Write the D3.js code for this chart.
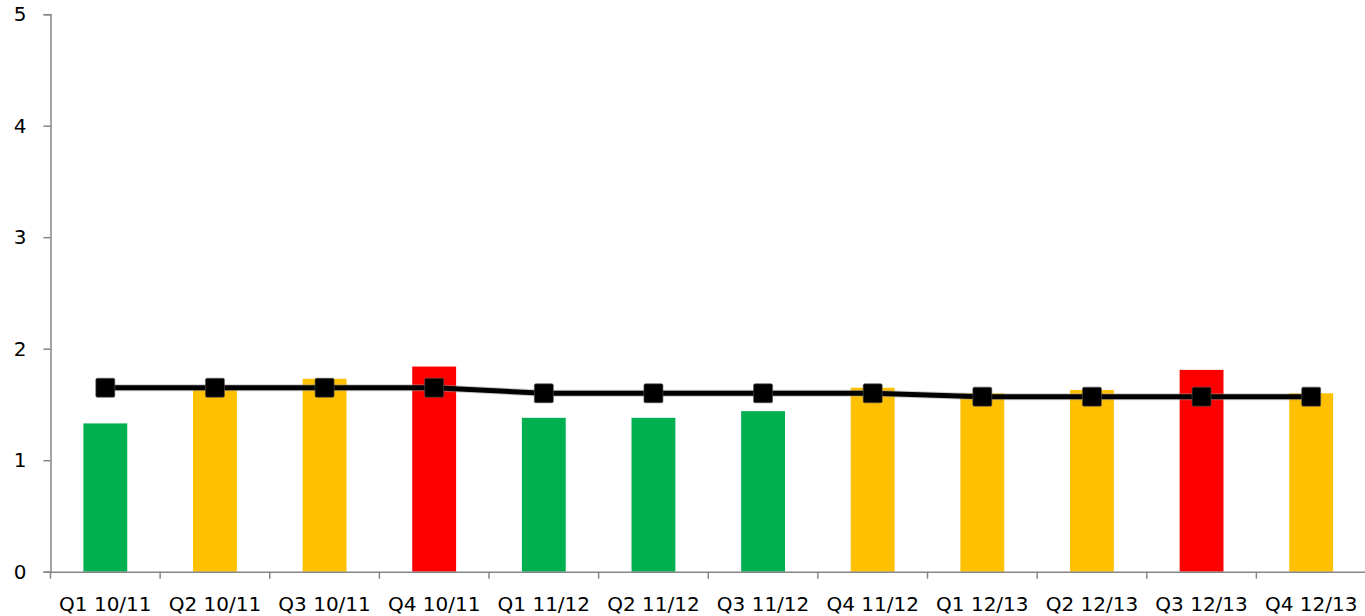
<!DOCTYPE html>
<html>
<head>
<meta charset="utf-8">
<script src="https://cdn.jsdelivr.net/npm/d3@7"></script>
<style>
  html, body { margin: 0; padding: 0; background: #fff; }
  svg { display: block; }
  text { font-family: "DejaVu Sans", Verdana, sans-serif; fill: #000; }
</style>
</head>
<body>
<svg id="chart" width="1365" height="616"></svg>
<script>
const categories = ["Q1 10/11","Q2 10/11","Q3 10/11","Q4 10/11","Q1 11/12","Q2 11/12","Q3 11/12","Q4 11/12","Q1 12/13","Q2 12/13","Q3 12/13","Q4 12/13"];
const barValues = [1.33, 1.63, 1.73, 1.84, 1.38, 1.38, 1.44, 1.65, 1.60, 1.63, 1.81, 1.60];
const barStatus = ["green","amber","amber","red","green","green","green","amber","amber","amber","red","amber"];
const lineValues = [1.65, 1.65, 1.65, 1.65, 1.60, 1.60, 1.60, 1.60, 1.57, 1.57, 1.57, 1.57];
const yTicks = [0, 1, 2, 3, 4, 5];

const statusColor = { green: "#00B050", amber: "#FFC000", red: "#FF0000" };

const svg = d3.select("#chart");
const x = d3.scaleBand().domain(categories).range([50.5, 1366]).paddingInner(0).paddingOuter(0);
const y = d3.scaleLinear().domain([0, 5]).range([571.7, 14.2]);

const axisColor = "#868686";

// bars
const barW = x.bandwidth() * 0.4;
svg.append("g").selectAll("rect").data(categories).join("rect")
  .attr("x", d => x(d) + x.bandwidth() / 2 - barW / 2)
  .attr("width", barW)
  .attr("y", (d, i) => y(barValues[i]))
  .attr("height", (d, i) => y(0) - y(barValues[i]))
  .attr("fill", (d, i) => statusColor[barStatus[i]]);

// y axis
const yAxis = svg.append("g").attr("transform", "translate(50.5,0)")
  .call(d3.axisLeft(y).tickValues(yTicks).tickSize(7).tickPadding(17).tickFormat(d3.format("d")));
yAxis.select(".domain").attr("stroke", axisColor).attr("stroke-width", 1.5);
yAxis.selectAll(".tick line").attr("stroke", axisColor).attr("stroke-width", 1.5);
yAxis.selectAll(".tick text").attr("font-size", 20).attr("font-family", "DejaVu Sans, Verdana, sans-serif").attr("fill", "#000");

// x axis
const xAxis = svg.append("g").attr("transform", "translate(0," + y(0) + ")")
  .call(d3.axisBottom(x).tickSize(0).tickPadding(0));
xAxis.select(".domain").attr("stroke", axisColor).attr("stroke-width", 1.5);
xAxis.selectAll(".tick text")
  .attr("font-size", 20)
  .attr("font-family", "DejaVu Sans, Verdana, sans-serif")
  .attr("fill", "#000")
  .attr("y", 0).attr("dy", 0)
  .attr("transform", "translate(0,39.5)");
// boundary tick marks
svg.append("g").selectAll("line").data(categories.slice(1)).join("line")
  .attr("x1", d => x(d)).attr("x2", d => x(d))
  .attr("y1", y(0)).attr("y2", y(0) + 7)
  .attr("stroke", axisColor).attr("stroke-width", 1.5);
svg.append("line")
  .attr("x1", x.range()[0]).attr("x2", x.range()[0])
  .attr("y1", y(0)).attr("y2", y(0) + 7)
  .attr("stroke", axisColor).attr("stroke-width", 1.5);

// line series
const cx = d => x(d) + x.bandwidth() / 2;
const lineGen = d3.line().x((d, i) => cx(categories[i])).y(d => y(d));
svg.append("path").datum(lineValues)
  .attr("d", lineGen)
  .attr("fill", "none")
  .attr("stroke", "#9a9a9a")
  .attr("stroke-width", 7)
  .attr("opacity", 0.5);
svg.append("path").datum(lineValues)
  .attr("d", lineGen)
  .attr("fill", "none")
  .attr("stroke", "#000")
  .attr("stroke-width", 5)
  .attr("stroke-linejoin", "round");

const m = 19;
svg.append("g").selectAll("rect").data(lineValues).join("rect")
  .attr("x", (d, i) => cx(categories[i]) - m / 2)
  .attr("y", d => y(d) - m / 2)
  .attr("width", m).attr("height", m)
  .attr("rx", 1.5).attr("ry", 1.5)
  .attr("fill", "#000")
  .attr("stroke", "#555").attr("stroke-width", 0.6);
</script>
</body>
</html>
